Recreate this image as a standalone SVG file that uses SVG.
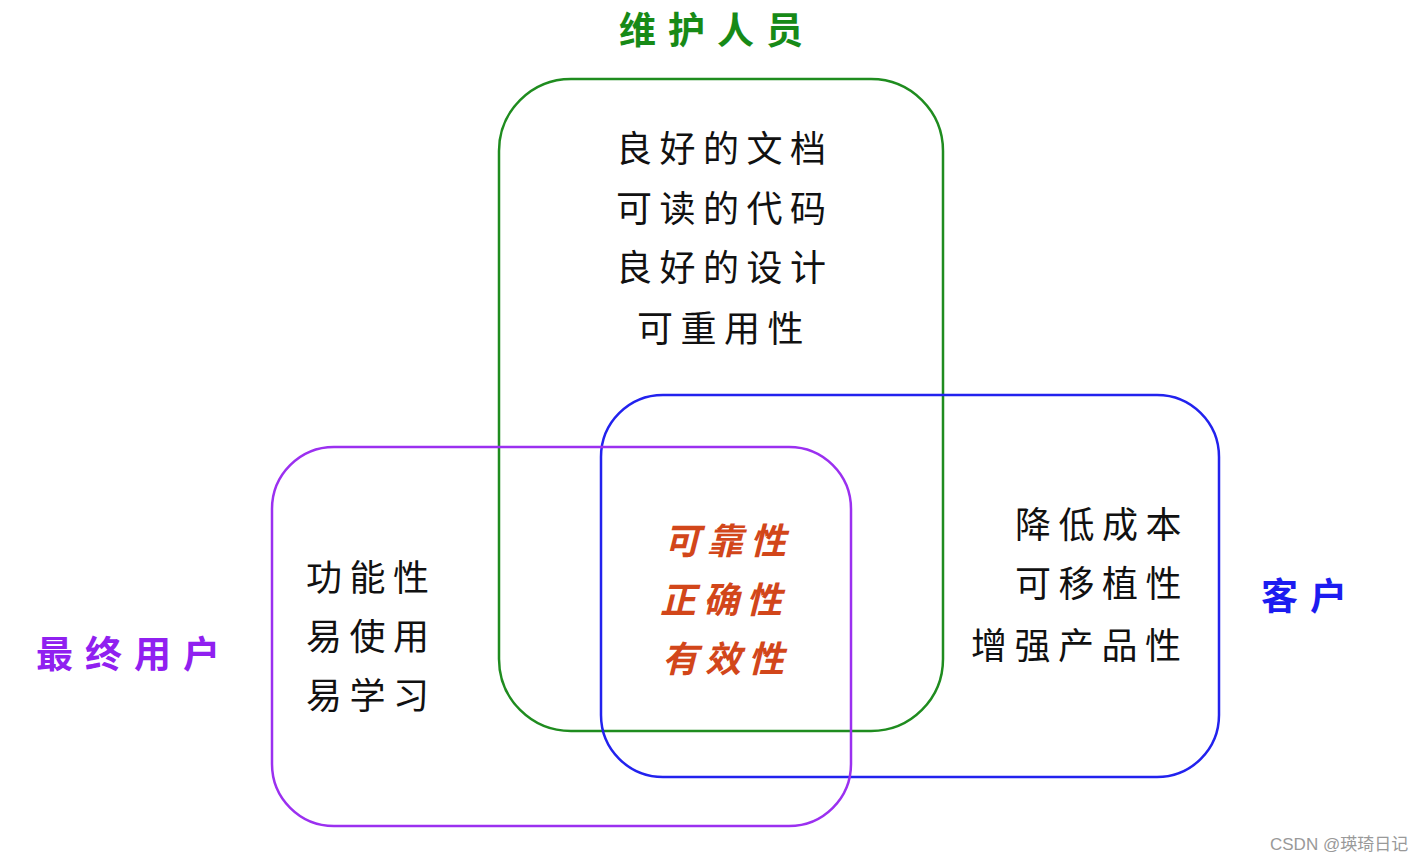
<svg xmlns="http://www.w3.org/2000/svg" width="1421" height="862" viewBox="0 0 1421 862">
<style>
.box{fill:none;stroke-width:2.5}
.t{font-family:"Noto Sans CJK SC","Noto Sans CJK JP",sans-serif;font-size:36px;fill:#111;letter-spacing:7.5px}
.r{font-family:"Noto Sans CJK SC",sans-serif;font-size:36px;fill:#d2461a;font-weight:bold;font-style:italic;letter-spacing:7px}
.h{font-family:"Noto Sans CJK SC",sans-serif;font-size:37px;font-weight:bold;letter-spacing:12px}
.w{font-family:"Liberation Sans","Noto Sans CJK SC",sans-serif;font-size:17px;fill:#999}
</style>
<rect width="1421" height="862" fill="#fff"/>
<g id="connectors"></g>
<g id="maintainers">
<rect class="box" x="499" y="79" width="444" height="652" rx="72" stroke="#1f8c1f"/>
<text class="h" x="619" y="44" fill="#178a17">维护人员</text>
<text class="t" x="616" y="162">良好的文档</text>
<text class="t" x="616" y="222">可读的代码</text>
<text class="t" x="616" y="281">良好的设计</text>
<text class="t" x="637" y="342">可重用性</text>
</g>
<g id="customer">
<rect class="box" x="601" y="395" width="618" height="382" rx="62" stroke="#2222ee"/>
<text class="h" x="1261" y="610" fill="#1c1cf0">客户</text>
<text class="t" x="1015" y="538">降低成本</text>
<text class="t" x="1015" y="597">可移植性</text>
<text class="t" x="971" y="659">增强产品性</text>
</g>
<g id="endusers">
<rect class="box" x="272" y="447" width="579" height="379" rx="62" stroke="#9b30f0"/>
<text class="h" x="36" y="668" fill="#9020f0">最终用户</text>
<text class="t" x="306" y="591">功能性</text>
<text class="t" x="306" y="650">易使用</text>
<text class="t" x="306" y="709">易学习</text>
</g>
<g id="core">
<text class="r" x="664" y="554">可靠性</text>
<text class="r" x="660" y="613">正确性</text>
<text class="r" x="662" y="672">有效性</text>
</g>
<text class="w" x="1270" y="850">CSDN @瑛琦日记</text>
</svg>
